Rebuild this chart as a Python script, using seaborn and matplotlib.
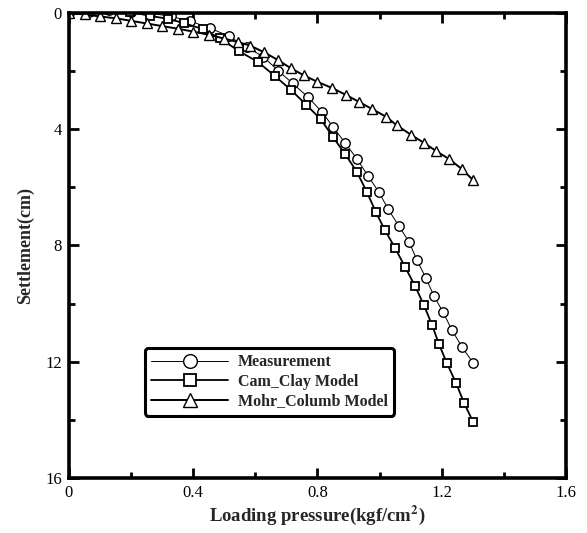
import numpy as np
import pandas as pd
import matplotlib
matplotlib.use("Agg")
import matplotlib.pyplot as plt
import seaborn as sns
from matplotlib.ticker import MultipleLocator

# ---- data ----
meas_x = [0.0, 0.065, 0.13, 0.2, 0.26, 0.33, 0.39, 0.454, 0.515, 0.573, 0.625,
          0.673, 0.72, 0.77, 0.815, 0.85, 0.889, 0.927, 0.963, 0.998, 1.027,
          1.062, 1.095, 1.120, 1.149, 1.175, 1.204, 1.233, 1.265, 1.301]
meas_y = [0.0, -0.05, -0.1, -0.05, 0.0, 0.12, 0.28, 0.52, 0.8, 1.18, 1.5,
          1.98, 2.42, 2.9, 3.41, 3.92, 4.47, 5.02, 5.61, 6.17, 6.74,
          7.33, 7.88, 8.5, 9.12, 9.74, 10.29, 10.91, 11.49, 12.04]

cam_x = [0.0, 0.065, 0.13, 0.195, 0.26, 0.32, 0.37, 0.43, 0.486, 0.547, 0.609,
         0.663, 0.714, 0.763, 0.811, 0.850, 0.889, 0.927, 0.959, 0.988, 1.017,
         1.050, 1.082, 1.114, 1.143, 1.169, 1.191, 1.217, 1.246, 1.272, 1.301]
cam_y = [0.0, -0.15, -0.15, -0.05, 0.1, 0.2, 0.35, 0.55, 0.87, 1.31, 1.69,
         2.17, 2.64, 3.15, 3.66, 4.27, 4.85, 5.47, 6.16, 6.85, 7.47,
         8.09, 8.74, 9.39, 10.06, 10.74, 11.39, 12.06, 12.73, 13.42, 14.07]

mohr_x = [0.0, 0.05, 0.1, 0.15, 0.2, 0.25, 0.3, 0.35, 0.4, 0.45, 0.5, 0.544,
          0.583, 0.628, 0.673, 0.714, 0.757, 0.80, 0.847, 0.892, 0.934, 0.975,
          1.021, 1.056, 1.101, 1.143, 1.182, 1.223, 1.265, 1.301]
mohr_y = [0.0, 0.05, 0.12, 0.18, 0.27, 0.36, 0.45, 0.54, 0.64, 0.75, 0.88, 1.0,
          1.12, 1.35, 1.62, 1.9, 2.15, 2.37, 2.58, 2.82, 3.06, 3.3,
          3.57, 3.87, 4.19, 4.47, 4.75, 5.02, 5.37, 5.75]

labels = ["Measurement", "Cam_Clay Model", "Mohr_Columb Model"]

x_ticks = [0, 0.4, 0.8, 1.2, 1.6]
x_ticklabels = ["0", "0.4", "0.8", "1.2", "1.6"]
y_ticks = [0, 4, 8, 12, 16]
y_ticklabels = ["0", "4", "8", "12", "16"]

# ---- style ----
sns.set_theme(style="ticks")
plt.rcParams["font.family"] = ["Liberation Serif", "DejaVu Serif"]
plt.rcParams["mathtext.fontset"] = "stix"

fig = plt.figure(figsize=(5.87, 5.33), dpi=100)
ax = fig.add_axes([0.1175, 0.1032, 0.8467, 0.8724])

sns.lineplot(x=meas_x, y=meas_y, ax=ax, sort=False, color="black", lw=0.7,
             marker="o", markersize=6.8, markerfacecolor="white",
             markeredgecolor="black", markeredgewidth=1.0, label=labels[0])
sns.lineplot(x=cam_x, y=cam_y, ax=ax, sort=False, color="black", lw=1.3,
             marker="s", markersize=6.3, markerfacecolor="white",
             markeredgecolor="black", markeredgewidth=1.3, label=labels[1])
sns.lineplot(x=mohr_x, y=mohr_y, ax=ax, sort=False, color="black", lw=1.4,
             marker="^", markersize=6.8, markerfacecolor="white",
             markeredgecolor="black", markeredgewidth=1.0, label=labels[2])

ax.set_xlim(0, 1.6)
ax.set_ylim(16, 0)
ax.set_xticks(x_ticks)
ax.set_xticklabels(x_ticklabels)
ax.set_yticks(y_ticks)
ax.set_yticklabels(y_ticklabels)
ax.xaxis.set_minor_locator(MultipleLocator(0.2))
ax.yaxis.set_minor_locator(MultipleLocator(2))
ax.tick_params(which="both", direction="in", top=True, right=True,
               labelsize=12, width=2, colors="black", pad=5)
ax.tick_params(which="major", length=7)
ax.tick_params(which="minor", length=4)
for s in ax.spines.values():
    s.set_linewidth(2.6)
    s.set_color("black")

ax.set_xlabel(r"Loading pressure(kgf/cm$^{\mathbf{2}}$)", fontsize=13.5,
              fontweight="bold", labelpad=2)
ax.set_ylabel("Settlement(cm)", fontsize=13, fontweight="bold", labelpad=8)

leg = ax.legend(loc="upper left", bbox_to_anchor=(0.137, 0.297),
                prop={"weight": "bold", "size": 11.5}, handlelength=4.8,
                markerscale=1.45, handletextpad=0.6, labelspacing=0.22,
                borderpad=0.4, fancybox=True, frameon=True)
leg.get_frame().set_edgecolor("black")
leg.get_frame().set_linewidth(2.2)
leg.get_frame().set_alpha(1)

fig.savefig("out.png", dpi=100)
